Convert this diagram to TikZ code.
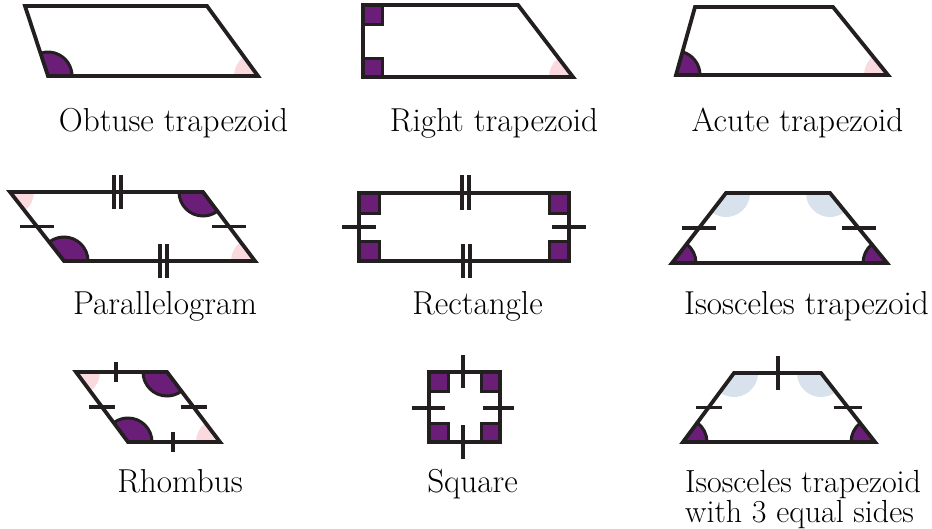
\documentclass[tikz,border=0pt]{standalone}
\usetikzlibrary{angles,calc}
\definecolor{qpurple}{RGB}{107,30,120}
\definecolor{qpink}{RGB}{250,218,222}
\definecolor{qblue}{RGB}{216,226,236}
\definecolor{qline}{RGB}{35,31,32}
\begin{document}
\begin{tikzpicture}[x=1pt,y=1pt,
  edge/.style={draw=qline,line width=3.8pt,line join=miter},
  tickmark/.style={draw=qline,line width=3.3pt},
  bigang/.style={draw=qline,line width=3pt,fill=qpurple,angle radius=24pt},
  pinkang/.style={fill=qpink,angle radius=24pt},
  blueang/.style={fill=qblue,angle radius=24pt},
  rsq/.style={draw=qline,line width=3pt,fill=qpurple},
  lbl/.style={anchor=base,inner sep=0pt,font=\fontsize{33.2}{30}\selectfont}]
\useasboundingbox (0,0) rectangle (932,-528);

% ---------- Obtuse trapezoid ----------
\coordinate (oA) at (25,-6);  \coordinate (oB) at (207,-6);
\coordinate (oC) at (258,-76); \coordinate (oD) at (48,-76);
\pic[pinkang] {angle = oB--oC--oD};
\pic[bigang] {angle = oC--oD--oA};
\draw[edge] (oA) -- (oB) -- (oC) -- (oD) -- cycle;
\node[lbl] (tobt) at (173.5,-131) {Obtuse trapezoid};

% ---------- Right trapezoid ----------
\coordinate (rA) at (363,-5);  \coordinate (rB) at (518,-5);
\coordinate (rC) at (573,-77); \coordinate (rD) at (363,-77);
\pic[pinkang] {angle = rB--rC--rD};
\draw[rsq] (rA) rectangle ++(19,-19);
\draw[rsq] (rD) rectangle ++(19,19);
\draw[edge] (rA) -- (rB) -- (rC) -- (rD) -- cycle;
\node[lbl] (trig) at (494,-131) {Right trapezoid};

% ---------- Acute trapezoid ----------
\coordinate (aA) at (695,-7);  \coordinate (aB) at (833,-7);
\coordinate (aC) at (888,-75); \coordinate (aD) at (676,-75);
\pic[pinkang] {angle = aB--aC--aD};
\pic[bigang] {angle = aC--aD--aA};
\draw[edge] (aA) -- (aB) -- (aC) -- (aD) -- cycle;
\node[lbl] (tacu) at (797.5,-131) {Acute trapezoid};

% ---------- Parallelogram ----------
\coordinate (pA) at (10,-192);  \coordinate (pB) at (203,-192);
\coordinate (pC) at (255,-261); \coordinate (pD) at (64,-261);
\pic[pinkang] {angle = pD--pA--pB};
\pic[pinkang] {angle = pB--pC--pD};
\pic[bigang] {angle = pA--pB--pC};
\pic[bigang] {angle = pC--pD--pA};
\draw[edge] (pA) -- (pB) -- (pC) -- (pD) -- cycle;
\draw[tickmark] (114,-175) -- (114,-209) (121,-175) -- (121,-209);
\draw[tickmark] (160,-244) -- (160,-278) (167,-244) -- (167,-278);
\draw[tickmark] ($(pA)!0.5!(pD)+(-17,0)$) -- ++(34,0);
\draw[tickmark] ($(pB)!0.5!(pC)+(-17,0)$) -- ++(34,0);
\node[lbl] (tpar) at (165,-314) {Parallelogram};

% ---------- Rectangle ----------
\coordinate (qA) at (359,-193); \coordinate (qB) at (569,-193);
\coordinate (qC) at (569,-261); \coordinate (qD) at (359,-261);
\draw[rsq] (qA) rectangle ++(20,-20);
\draw[rsq] (qB) rectangle ++(-20,-20);
\draw[rsq] (qC) rectangle ++(-20,20);
\draw[rsq] (qD) rectangle ++(20,20);
\draw[edge] (qA) -- (qB) -- (qC) -- (qD) -- cycle;
\draw[tickmark] (462,-175) -- (462,-210) (469,-175) -- (469,-210);
\draw[tickmark] (463,-244) -- (463,-278) (470,-244) -- (470,-278);
\draw[tickmark] ($(qA)!0.5!(qD)+(-17,0)$) -- ++(34,0);
\draw[tickmark] ($(qB)!0.5!(qC)+(-17,0)$) -- ++(34,0);
\node[lbl] (trec) at (477.5,-314) {Rectangle};

% ---------- Isosceles trapezoid ----------
\coordinate (iA) at (726,-193); \coordinate (iB) at (830,-193);
\coordinate (iC) at (887,-263); \coordinate (iD) at (672,-263);
\pic[blueang] {angle = iD--iA--iB};
\pic[blueang] {angle = iA--iB--iC};
\pic[bigang] {angle = iB--iC--iD};
\pic[bigang] {angle = iC--iD--iA};
\draw[edge] (iA) -- (iB) -- (iC) -- (iD) -- cycle;
\draw[tickmark] ($(iA)!0.5!(iD)+(-17,0)$) -- ++(34,0);
\draw[tickmark] ($(iB)!0.5!(iC)+(-17,0)$) -- ++(34,0);
\node[lbl] (tiso) at (806.5,-314) {Isosceles trapezoid};

% ---------- Rhombus ----------
\coordinate (hA) at (76,-372);  \coordinate (hB) at (167,-372);
\coordinate (hC) at (220,-442); \coordinate (hD) at (128,-442);
\pic[pinkang] {angle = hD--hA--hB};
\pic[pinkang] {angle = hB--hC--hD};
\pic[bigang] {angle = hA--hB--hC};
\pic[bigang] {angle = hC--hD--hA};
\draw[edge] (hA) -- (hB) -- (hC) -- (hD) -- cycle;
\draw[tickmark] (116,-362) -- (116,-382);
\draw[tickmark] (173,-432) -- (173,-452);
\draw[tickmark] ($(hA)!0.5!(hD)+(-13,0)$) -- ++(26,0);
\draw[tickmark] ($(hB)!0.5!(hC)+(-13,0)$) -- ++(26,0);
\node[lbl] (trho) at (180,-492) {Rhombus};

% ---------- Square ----------
\coordinate (sA) at (429,-372); \coordinate (sB) at (500,-372);
\coordinate (sC) at (500,-442); \coordinate (sD) at (429,-442);
\draw[rsq] (sA) rectangle ++(19,-19);
\draw[rsq] (sB) rectangle ++(-19,-19);
\draw[rsq] (sC) rectangle ++(-19,19);
\draw[rsq] (sD) rectangle ++(19,19);
\draw[edge] (sA) -- (sB) -- (sC) -- (sD) -- cycle;
\draw[tickmark] (463,-355) -- (463,-388);
\draw[tickmark] (463,-425) -- (463,-459);
\draw[tickmark] (412,-408) -- (445,-408);
\draw[tickmark] (483,-408) -- (514,-408);
\node[lbl] (tsqu) at (472.5,-492) {Square};

% ---------- Isosceles trapezoid with 3 equal sides ----------
\coordinate (eA) at (734,-373); \coordinate (eB) at (821,-373);
\coordinate (eC) at (875,-442); \coordinate (eD) at (683,-442);
\pic[blueang] {angle = eD--eA--eB};
\pic[blueang] {angle = eA--eB--eC};
\pic[bigang] {angle = eB--eC--eD};
\pic[bigang] {angle = eC--eD--eA};
\draw[edge] (eA) -- (eB) -- (eC) -- (eD) -- cycle;
\draw[tickmark] (778,-356) -- (778,-390);
\draw[tickmark] ($(eA)!0.5!(eD)+(-13,0)$) -- ++(26,0);
\draw[tickmark] ($(eB)!0.5!(eC)+(-14,0)$) -- ++(28,0);
\node[lbl,anchor=base west,font=\fontsize{32}{27}\selectfont] (tis3) at (685,-492)
  {\begin{tabular}[t]{@{}l@{}}Isosceles trapezoid\\with 3 equal sides\end{tabular}};
\end{tikzpicture}
\end{document}
